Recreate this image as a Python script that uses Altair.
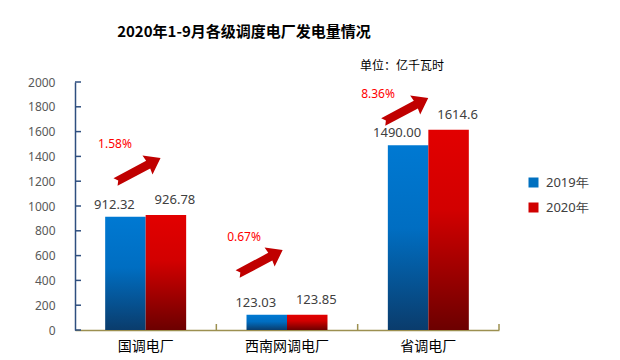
import altair as alt
import pandas as pd

# ---- data ----
categories = ["国调电厂", "西南网调电厂", "省调电厂"]
years = ["2019年", "2020年"]
values_2019 = [912.32, 123.03, 1490.00]
values_2020 = [926.78, 123.85, 1614.6]
labels_2019 = ["912.32", "123.03", "1490.00"]
labels_2020 = ["926.78", "123.85", "1614.6"]
growth = ["1.58%", "0.67%", "8.36%"]
y_ticks = [0, 200, 400, 600, 800, 1000, 1200, 1400, 1600, 1800, 2000]

# annotation anchors (data units: x = category index + fraction, y = value axis)
arrow_x = [0.446, 1.31, 2.34]
arrow_y = [1290, 548, 1774]
pct_x = [0.283, 1.196, 2.144]
pct_y = [1500, 750, 1903]

rows = []
for i, c in enumerate(categories):
    rows.append({"cat": c, "year": years[0], "value": values_2019[i], "label": labels_2019[i]})
    rows.append({"cat": c, "year": years[1], "value": values_2020[i], "label": labels_2020[i]})
bars_df = pd.DataFrame(rows)
ann_df = pd.DataFrame({"ax": arrow_x, "ay": arrow_y, "px": pct_x, "py": pct_y, "pct": growth})
ticks_df = pd.DataFrame({"t": y_ticks})
bound_df = pd.DataFrame({"b": [1, 2, 3]})
legend_df = pd.DataFrame({"year": years})

Y = alt.Scale(domain=[0, 2000], nice=False)
XB = alt.Scale(domain=categories, paddingInner=0.427, paddingOuter=0.2135)
XO = alt.Scale(domain=years, paddingInner=0, paddingOuter=0)
XQ = alt.Scale(domain=[0, 3], nice=False, zero=False)

blue_grad = alt.LinearGradient(
    gradient="linear", x1=0, y1=0, x2=0, y2=1,
    stops=[alt.GradientStop(color="#0079d2", offset=0),
           alt.GradientStop(color="#006ec2", offset=0.45),
           alt.GradientStop(color="#0a3c6c", offset=1)])
red_grad = alt.LinearGradient(
    gradient="linear", x1=0, y1=0, x2=0, y2=1,
    stops=[alt.GradientStop(color="#e20000", offset=0),
           alt.GradientStop(color="#d20000", offset=0.4),
           alt.GradientStop(color="#6c0000", offset=1)])

x_axis = alt.Axis(title=None, labelAngle=0, labelFont="Noto Sans CJK SC",
                  labelFontSize=14, labelColor="#000000", labelPadding=9,
                  ticks=False, domainColor="#9c9050", domainWidth=1.5)
y_axis = alt.Axis(title=None, values=y_ticks, ticks=False, grid=False, format="d",
                  labelOverlap=False, labelFont="Noto Sans", labelFontSize=12,
                  labelColor="#595959", labelPadding=20,
                  domainColor="#2f4f7f", domainWidth=1.5)


def yq(field):
    return alt.Y(field, type="quantitative", scale=Y, axis=y_axis)


base = alt.Chart(bars_df)
layers = []
for yr, grad, dx, dy in [(years[0], blue_grad, -11, -12), (years[1], red_grad, 9, -15)]:
    b = base.transform_filter(alt.datum.year == yr)
    layers.append(b.mark_bar(color=grad).encode(
        x=alt.X("cat:N", scale=XB, sort=categories, axis=x_axis),
        xOffset=alt.XOffset("year:N", scale=XO),
        y=yq("value")))
    layers.append(b.mark_text(dx=dx, dy=dy, baseline="middle", font="Noto Sans",
                              fontSize=13, color="#404040").encode(
        x=alt.X("cat:N", scale=XB, sort=categories, axis=x_axis),
        xOffset=alt.XOffset("year:N", scale=XO),
        y=yq("value"), text="label:N"))

bar_layer = alt.layer(*layers)

arrow_path = "M -1 -0.17 L 0.45 -0.17 L 0.42 -0.42 L 1 0 L 0.42 0.42 L 0.45 0.17 L -1 0.17 L -0.88 0 Z"
ann = alt.Chart(ann_df)
arrows = ann.mark_point(shape=arrow_path, filled=True, color="#c00000", opacity=1,
                        size=2600, angle=332, strokeWidth=0).encode(
    x=alt.X("ax:Q", scale=XQ, axis=None), y=yq("ay"))
pcts = ann.mark_text(font="Noto Sans", fontSize=12, color="#ff0000").encode(
    x=alt.X("px:Q", scale=XQ, axis=None), y=yq("py"), text="pct:N")
bounds = alt.Chart(bound_df).mark_rule(color="#9c9050", strokeWidth=1.5).encode(
    x=alt.X("b:Q", scale=XQ, axis=None), y=alt.value(248), y2=alt.value(242))
yticks = alt.Chart(ticks_df).mark_rule(color="#2f4f7f", strokeWidth=1.5).encode(
    y=yq("t"), x=alt.value(0), x2=alt.value(6))
unit = alt.Chart(pd.DataFrame({"u": ["单位：亿千瓦时"]})).mark_text(
    font="Noto Sans CJK SC", fontSize=12, color="#000000").encode(
    x=alt.value(327), y=alt.value(-16), text="u:N")
legend_layer = alt.Chart(legend_df).mark_square(opacity=0, size=1).encode(
    color=alt.Color("year:N", scale=alt.Scale(domain=years, range=["#0070c0", "#d00000"]),
                    legend=alt.Legend(title=None, orient="none", legendX=452, legendY=94,
                                      symbolType="square", symbolSize=100, symbolOpacity=1,
                                      symbolStrokeWidth=0, labelFont="Noto Sans",
                                      labelFontSize=13, labelColor="#404040",
                                      rowPadding=11, padding=0, labelOffset=6)))

ann_layer = alt.layer(arrows, pcts, bounds, yticks, unit, legend_layer)

chart = alt.layer(bar_layer, ann_layer).resolve_scale(x="independent").properties(
    width=424, height=248,
    title=alt.TitleParams("2020年1-9月各级调度电厂发电量情况", font="Noto Sans CJK SC",
                          fontSize=15, fontWeight="bold", color="#000000",
                          anchor="middle", dx=-43, offset=20),
    autosize=alt.AutoSizeParams(type="none"),
    padding={"left": 67, "top": 74, "right": 113, "bottom": 30},
).configure_view(stroke=None).configure_axis(grid=False)

chart.save("out.html", embed_options={"renderer": "svg", "actions": False})
